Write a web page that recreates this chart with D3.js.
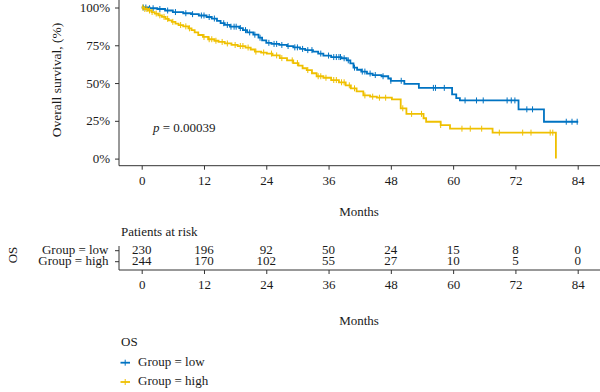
<!DOCTYPE html>
<html><head><meta charset="utf-8">
<script src="https://cdn.jsdelivr.net/npm/d3@7"></script>
<style>
body{margin:0;background:#fff;}
text{font-family:"Liberation Serif","Times New Roman",serif;fill:#1a1a1a;}
</style></head>
<body><svg id="c" width="600" height="392"></svg>
<script>
// ---- data ----
const groups = ["low", "high"];
const colors = ["#0073C2", "#EFC000"];
const xTicks = [0, 12, 24, 36, 48, 60, 72, 84];
const yTicks = [0, 0.25, 0.5, 0.75, 1];
const yTickLabels = ["0%", "25%", "50%", "75%", "100%"];

const lowTime = [0,1.5,3,4.5,6,8,9.5,11,12.5,13.5,14.5,15.2,16,17,18.8,19.5,20.3,21.5,22.5,23.2,24,25,26.5,28,29.2,30.5,31.5,33,34,35,36.5,38.5,39.5,40.2,40.8,41.5,42.3,43.4,44.5,46.2,47.5,48,50.6,53.4,59.8,60.6,61.3,72.6,77.5];
const lowSurv = [1,0.995,0.99,0.98,0.97,0.962,0.956,0.947,0.937,0.927,0.912,0.896,0.885,0.873,0.864,0.85,0.835,0.82,0.80,0.782,0.766,0.759,0.752,0.745,0.736,0.726,0.718,0.708,0.695,0.682,0.672,0.664,0.65,0.63,0.602,0.588,0.576,0.563,0.553,0.545,0.53,0.515,0.495,0.468,0.425,0.40,0.385,0.326,0.244];
const lowEnd = 84.1;
const lowCensor = [0.3,0.8,1.5,2.2,3.5,5,6.5,8.5,9.8,11.5,12,13,14,15.8,16.5,17.2,17.8,18.2,19,20,20.8,21.8,22.8,24.5,25.5,26,27,28.2,29.5,30,31,32,32.8,34.5,36,37,37.5,38,38.3,39,39.8,41,42.5,43,44,45,46.5,48,50,56.2,56.6,58.3,62.3,64.5,65.8,70.4,71.2,71.9,74.2,75.3,81.8,82.9,83.9];

const highTime = [0,0.5,1.2,1.9,2.5,3.2,3.9,4.6,5.2,5.8,6.5,7.1,8,9,9.6,10.2,10.9,11.8,12.8,14,14.8,16,17.3,18.5,20,21,21.8,23,24.1,25.2,26.6,28,29.2,30.2,31,31.8,32.8,33.7,35,36.5,38,39.3,40.3,41.4,42.7,44,45.3,48.2,49.9,51,54.3,54.8,57.6,59.4,67.6,79.8];
const highSurv = [1,0.99,0.98,0.97,0.96,0.948,0.938,0.925,0.915,0.905,0.893,0.884,0.875,0.862,0.85,0.835,0.818,0.805,0.79,0.78,0.772,0.762,0.752,0.745,0.735,0.722,0.708,0.702,0.695,0.683,0.665,0.65,0.632,0.615,0.598,0.586,0.565,0.545,0.535,0.52,0.505,0.485,0.465,0.445,0.418,0.41,0.403,0.392,0.333,0.296,0.267,0.244,0.222,0.198,0.172,0];
const highEnd = 79.8;
const highCensor = [0.2,0.6,1,1.5,2,2.8,3.5,4.3,5,6,7.5,8.5,9.2,12,13,13.5,14.3,15.5,16.5,18,19,19.5,20.5,22,23.5,25,26,27,29,30,32,34,34.5,35.5,37,37.5,38.5,39,40,41,43,44.5,45.8,47,50.3,52,53.9,57.6,61.7,63.3,65.5,68.9,73.4,75,78.7,79.2];

const riskLow = [230, 196, 92, 50, 24, 15, 8, 0];
const riskHigh = [244, 170, 102, 55, 27, 10, 5, 0];
const pText = "0.00039";

// ---- drawing ----
const svg = d3.select("#c");
const x = d3.scaleLinear().domain([0, 84]).range([141.7, 577.7]);
const y = d3.scaleLinear().domain([0, 1]).range([158.6, 7.5]);
const axisColor = "#333";
const fs = "13px";

// main axes
const gx = svg.append("g").attr("transform", "translate(0,165.7)")
  .call(d3.axisBottom(x).tickValues(xTicks).tickSize(4).tickPadding(6));
gx.select(".domain").remove();
svg.append("line").attr("x1", 119).attr("x2", 600).attr("y1", 165.7).attr("y2", 165.7).attr("stroke", axisColor);
const gy = svg.append("g").attr("transform", "translate(119,0)")
  .call(d3.axisLeft(y).tickValues(yTicks).tickFormat((d, i) => yTickLabels[i]).tickSize(4).tickPadding(5));
gy.select(".domain").remove();
svg.append("line").attr("x1", 119).attr("x2", 119).attr("y1", 0).attr("y2", 165.7).attr("stroke", axisColor);
[gx, gy].forEach(g => {
  g.selectAll("line").attr("stroke", axisColor);
  g.selectAll("text").style("font-size", fs).style("font-family", '"Liberation Serif",serif').attr("fill", "#1a1a1a");
});

svg.append("text").attr("transform", "translate(58,80) rotate(-90)").attr("text-anchor", "middle")
  .attr("dominant-baseline", "middle").style("font-size", "13.5px").text("Overall survival, (%)");
svg.append("text").attr("x", 359).attr("y", 213).attr("text-anchor", "middle").attr("dominant-baseline", "middle")
  .style("font-size", fs).text("Months");

// p-value
const pt = svg.append("text").attr("x", 153).attr("y", 132).style("font-size", fs);
pt.append("tspan").style("font-style", "italic").text("p");
pt.append("tspan").text(" = " + pText);

// curves
const series = [
  {t: lowTime, s: lowSurv, end: lowEnd, c: lowCensor},
  {t: highTime, s: highSurv, end: highEnd, c: highCensor}
];
const line = d3.line().x(d => x(d[0])).y(d => y(d[1])).curve(d3.curveStepAfter);
const bis = d3.bisector(d => d).right;
series.forEach((ser, i) => {
  const pts = ser.t.map((t, k) => [t, ser.s[k]]);
  if (pts[pts.length - 1][0] < ser.end) pts.push([ser.end, ser.s[ser.s.length - 1]]);
  svg.append("path").attr("d", line(pts)).attr("fill", "none").attr("stroke", colors[i]).attr("stroke-width", 1.8);
  const g = svg.append("g");
  ser.c.forEach(ct => {
    const k = bis(ser.t, ct) - 1;
    const sv = ser.s[Math.max(0, k)];
    g.append("line").attr("x1", x(ct)).attr("x2", x(ct)).attr("y1", y(sv) - 3).attr("y2", y(sv) + 3)
      .attr("stroke", colors[i]).attr("stroke-width", 1);
  });
});

// risk table
svg.append("text").attr("x", 121).attr("y", 233).attr("dominant-baseline", "middle").style("font-size", fs).text("Patients at risk");
const rowY = [250.7, 261.7];
const rowLabels = groups.map(g => "Group = " + g);
const risks = [riskLow, riskHigh];
rowLabels.forEach((lab, r) => {
  svg.append("text").attr("x", 108.5).attr("y", rowY[r]).attr("text-anchor", "end").attr("dominant-baseline", "middle")
    .style("font-size", fs).text(lab);
  svg.append("line").attr("x1", 115).attr("x2", 119).attr("y1", rowY[r]).attr("y2", rowY[r]).attr("stroke", axisColor);
  risks[r].forEach((v, k) => {
    svg.append("text").attr("x", x(xTicks[k])).attr("y", rowY[r]).attr("text-anchor", "middle")
      .attr("dominant-baseline", "middle").style("font-size", fs).text(v);
  });
});
svg.append("line").attr("x1", 119).attr("x2", 119).attr("y1", 246).attr("y2", 270).attr("stroke", axisColor);
const gx2 = svg.append("g").attr("transform", "translate(0,270)")
  .call(d3.axisBottom(x).tickValues(xTicks).tickSize(4).tickPadding(6));
gx2.select(".domain").remove();
svg.append("line").attr("x1", 119).attr("x2", 600).attr("y1", 270).attr("y2", 270).attr("stroke", axisColor);
gx2.selectAll("line").attr("stroke", axisColor);
gx2.selectAll("text").style("font-size", fs).style("font-family", '"Liberation Serif",serif').attr("fill", "#1a1a1a");
svg.append("text").attr("x", 359).attr("y", 322).attr("text-anchor", "middle").attr("dominant-baseline", "middle")
  .style("font-size", fs).text("Months");
svg.append("text").attr("transform", "translate(14,255) rotate(-90)").attr("text-anchor", "middle")
  .attr("dominant-baseline", "middle").style("font-size", fs).text("OS");

// legend
svg.append("text").attr("x", 121).attr("y", 343.5).attr("dominant-baseline", "middle").style("font-size", fs).text("OS");
const legY = [362.7, 382];
groups.forEach((g, i) => {
  const lg = svg.append("g");
  lg.append("line").attr("x1", 120.5).attr("x2", 130).attr("y1", legY[i]).attr("y2", legY[i]).attr("stroke", colors[i]).attr("stroke-width", 1.8);
  lg.append("line").attr("x1", 125.2).attr("x2", 125.2).attr("y1", legY[i] - 3).attr("y2", legY[i] + 3).attr("stroke", colors[i]).attr("stroke-width", 1);
  lg.append("text").attr("x", 138).attr("y", legY[i]).attr("dominant-baseline", "middle").style("font-size", fs).text("Group = " + g);
});
</script></body></html>
